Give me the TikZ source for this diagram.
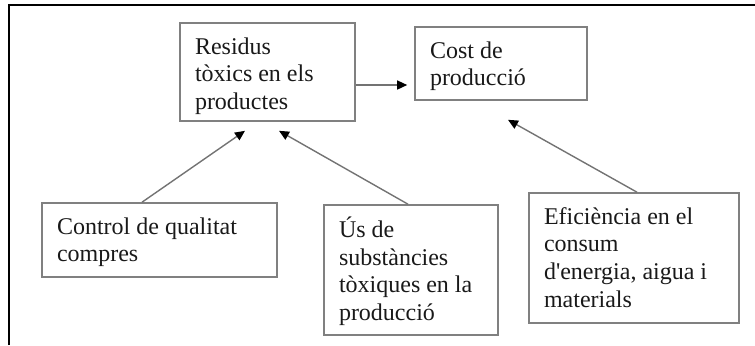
\documentclass[tikz,border=0pt]{standalone}
\usepackage{fontspec}
\setmainfont{Liberation Serif}
\usepackage{xcolor}
\usepackage{tikz}
\usetikzlibrary{arrows.meta, positioning}

\definecolor{boxgray}{gray}{0.5}
\definecolor{linegray}{gray}{0.45}
\newcommand{\boxtext}[3]{\vbox to #2{\hsize=#1\raggedright\noindent\strut #3\vfil}}

\begin{document}
\begin{tikzpicture}[x=0.5pt, y=-0.5pt]
\tikzstyle{process} = [rectangle, draw=boxgray, line width=0.8pt, inner xsep=7.5pt, inner ysep=6pt, font=\fontsize{12}{13.8}\selectfont, text=black!90]
\tikzstyle{arrow} = [draw=linegray, line width=0.7pt, -{Triangle[black, length=5pt, width=4.5pt]}]

\useasboundingbox (0,0) rectangle (755,345);
\draw [line width=1pt] (9,345) -- (9,5) -- (755,5);

\node (residus) [process] at (267.5,72) {\boxtext{72.5pt}{37pt}{Residus\\ tòxics en els\\ productes}};
\node (cost) [process] at (501,63.5) {\boxtext{71pt}{24.5pt}{Cost de\\ producció}};
\node (control) [process] at (159.5,240) {\boxtext{102.5pt}{25pt}{Control de qualitat\\ compres}};
\node (us) [process] at (411,270) {\boxtext{72pt}{53pt}{Ús de\\ substàncies\\ tòxiques en la\\ producció}};
\node (efic) [process] at (634,258) {\boxtext{90pt}{53pt}{Eficiència en el\\ consum\\ d\textquotesingle energia, aigua i\\ materials}};

\draw [arrow, shorten >=3.5pt] ([yshift=-6.5pt]residus.east) -- ([yshift=-6.5pt]residus.east -| cost.west);
\draw [arrow] ([xshift=-8.75pt]control.north) -- ([xshift=-11.25pt,yshift=-4.5pt]residus.south);
\draw [arrow] ([xshift=-1.5pt]us.north) -- ([xshift=5.75pt,yshift=-4.5pt]residus.south);
\draw [arrow] ([xshift=1.5pt]efic.north) -- ([xshift=3.5pt,yshift=-9.5pt]cost.south);

\end{tikzpicture}
\end{document}
